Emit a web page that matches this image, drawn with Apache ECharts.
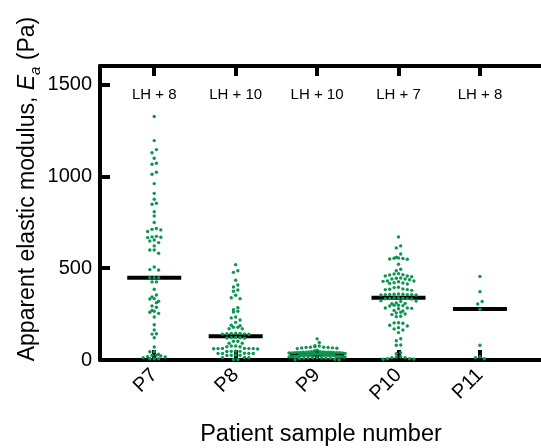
<!DOCTYPE html>
<html>
<head>
<meta charset="utf-8">
<script src="https://cdn.jsdelivr.net/npm/echarts@6/dist/echarts.min.js"></script>
<style>
html,body{margin:0;padding:0;background:#fff;}
#c{width:541px;height:448px;}
</style>
</head>
<body>
<div id="c"></div>
<script>
const categories = ['P7', 'P8', 'P9', 'P10', 'P11'];
const topLabels = ['LH + 8', 'LH + 10', 'LH + 10', 'LH + 7', 'LH + 8'];
const yTicks = [0, 500, 1000, 1500];
const medians = [448, 129, 30, 339, 278];

const p7 = [1325, 1194, 1145, 1128, 1098, 1071, 1065, 1022, 1011, 960, 907, 875, 853, 848, 807, 784, 748, 716, 711, 708, 699, 673, 670, 666, 668, 653, 648, 639, 621, 599, 599, 581, 506, 492, 490, 448, 448, 448, 425, 425, 385, 354, 343, 334, 332, 320, 312, 294, 287, 270, 265, 260, 254, 234, 192, 163, 143, 141, 121, 71, 45, 45, 31, 26, 16, 22, 13, 18, 26, 7, 7, 7];
const p8 = [519, 486, 477, 434, 408, 397, 381, 374, 352, 339, 334, 285, 274, 265, 261, 234, 229, 218, 205, 187, 189, 178, 178, 170, 170, 145, 142, 140, 143, 141, 144, 146, 121, 120, 123, 119, 122, 102, 102, 91, 91, 76, 72, 72, 76, 62, 63, 61, 62, 60, 63, 62, 47, 48, 46, 47, 36, 37, 35, 36, 36, 26, 27, 25, 26, 13, 14, 12, 3, 3];
const p9 = [115, 95, 78, 76, 54, 49, 36, 31, 72, 70, 68, 66, 65, 64, 62, 70, 68, 45, 44, 43, 42, 41, 40, 39, 38, 44, 43, 42, 41, 40, 39, 45, 42, 41, 40, 33, 32, 31, 30, 29, 28, 27, 26, 33, 32, 31, 30, 29, 28, 27, 26, 31, 30, 20, 19, 18, 17, 21, 20, 19, 18, 17, 16, 22, 20, 12, 11, 10, 9, 8, 12, 11, 10, 4, 2, 1];
const p10 = [670, 621, 610, 577, 559, 554, 550, 548, 552, 555, 521, 494, 486, 470, 464, 463, 468, 457, 453, 457, 446, 441, 445, 437, 441, 430, 426, 428, 430, 419, 417, 421, 414, 396, 394, 387, 383, 385, 383, 379, 358, 356, 354, 358, 356, 354, 357, 355, 359, 338, 334, 332, 335, 333, 338, 336, 323, 319, 321, 310, 306, 308, 298, 294, 296, 298, 283, 279, 281, 283, 270, 267, 260, 256, 247, 250, 236, 238, 203, 200, 202, 189, 185, 176, 163, 169, 149, 116, 105, 80, 82, 40, 34, 18, 13, 16, 13, 7, 4, 5, 7];
const p11 = [455, 372, 318, 305, 276, 80, 18, 13, 7];
const groups = [p7, p8, p9, p10, p11];

const FONT = 'Liberation Sans, Arial, Helvetica, sans-serif';
const idx = [0, 1, 2, 3, 4];
const chart = echarts.init(document.getElementById('c'), null, {renderer: 'canvas'});

const xCommon = {
  type: 'value', min: -0.666, max: 4.75,
  splitLine: {show: false},
  axisLine: {show: true, onZero: false, lineStyle: {color: '#000', width: 4}},
  axisTick: {show: true, inside: true, length: 10, customValues: idx, lineStyle: {color: '#000', width: 4}}
};

const option = {
  animation: false,
  backgroundColor: '#fff',
  grid: {left: 100, top: 66, bottom: 88, right: -6.2},
  xAxis: [
    Object.assign({}, xCommon, {
      position: 'bottom',
      axisLabel: {customValues: idx, formatter: v => categories[Math.round(v)], rotate: 45, fontSize: 20, color: '#000', fontFamily: FONT, margin: 12}
    }),
    Object.assign({}, xCommon, {
      position: 'top',
      axisLabel: {customValues: idx, inside: true, formatter: v => topLabels[Math.round(v)], fontSize: 15, color: '#000', fontFamily: FONT, margin: 21}
    })
  ],
  yAxis: {
    type: 'value', min: 0, max: 1600,
    splitLine: {show: false},
    axisLine: {show: true, onZero: false, lineStyle: {color: '#000', width: 4}},
    axisTick: {show: true, inside: true, length: 10, customValues: yTicks, lineStyle: {color: '#000', width: 4}},
    axisLabel: {customValues: yTicks, formatter: v => String(v), fontSize: 20, color: '#000', fontFamily: FONT, margin: 8}
  },
  graphic: [
    {
      type: 'text', x: 28, y: 189, rotation: Math.PI / 2,
      style: {
        text: '{n|Apparent elastic modulus, }{e|E}{s|a}{n| (Pa)}',
        align: 'center', verticalAlign: 'middle',
        rich: {
          n: {fontSize: 23, fontFamily: FONT, fill: '#000', lineHeight: 30},
          e: {fontSize: 23, fontFamily: FONT, fontStyle: 'italic', fill: '#000', lineHeight: 30},
          s: {fontSize: 15, fontFamily: FONT, fontStyle: 'italic', fill: '#000', lineHeight: 14, verticalAlign: 'bottom'}
        }
      }
    },
    {
      type: 'text', x: 321, y: 435,
      style: {text: 'Patient sample number', fontSize: 23.5, fontFamily: FONT, fill: '#000', align: 'center', verticalAlign: 'middle'}
    }
  ],
  series: []
};
chart.setOption(option);

// column-scatter layout (rows of nearby values), computed in pixel space via the chart's scales
const D = 4.4;      // horizontal spacing between dots in a row (px)
const ROW_H = 3.4;  // values within this many px share a row
const MAX_W = 56;   // widest a row may spread (px)
const x0 = chart.convertToPixel({xAxisIndex: 0}, 0);
const x1 = chart.convertToPixel({xAxisIndex: 0}, 1);
const pxPerUnit = x1 - x0;
function layout(values, ci) {
  const pts = values.map(v => ({v: v, y: chart.convertToPixel({yAxisIndex: 0}, v)}));
  pts.sort((a, b) => a.y - b.y);
  const rows = [];
  let cur = null;
  for (const p of pts) {
    if (!cur || p.y - cur.y0 > ROW_H) { cur = {y0: p.y, items: []}; rows.push(cur); }
    cur.items.push(p);
  }
  const out = [];
  for (const r of rows) {
    const n = r.items.length;
    const s = n > 1 ? Math.min(D, MAX_W / (n - 1)) : 0;
    const ordered = [];
    r.items.forEach((p, k) => { if (k % 2 === 0) ordered.push(p); else ordered.unshift(p); });
    ordered.forEach((p, k) => {
      const off = (k - (n - 1) / 2) * s;
      out.push([ci + off / pxPerUnit, p.v]);
    });
  }
  return out;
}
let pointData = [];
groups.forEach((g, i) => { pointData = pointData.concat(layout(g, i)); });

chart.setOption({
  series: [
    {
      type: 'scatter', name: 'median', silent: true, z: 2,
      symbol: 'rect', symbolSize: [54, 4],
      itemStyle: {color: '#000', opacity: 1},
      data: medians.map((m, i) => [i, m])
    },
    {
      type: 'scatter', name: 'points', silent: true, z: 3,
      symbol: 'circle', symbolSize: 3.4,
      itemStyle: {color: '#0a9650', opacity: 1},
      data: pointData
    }
  ]
});
</script>
</body>
</html>
